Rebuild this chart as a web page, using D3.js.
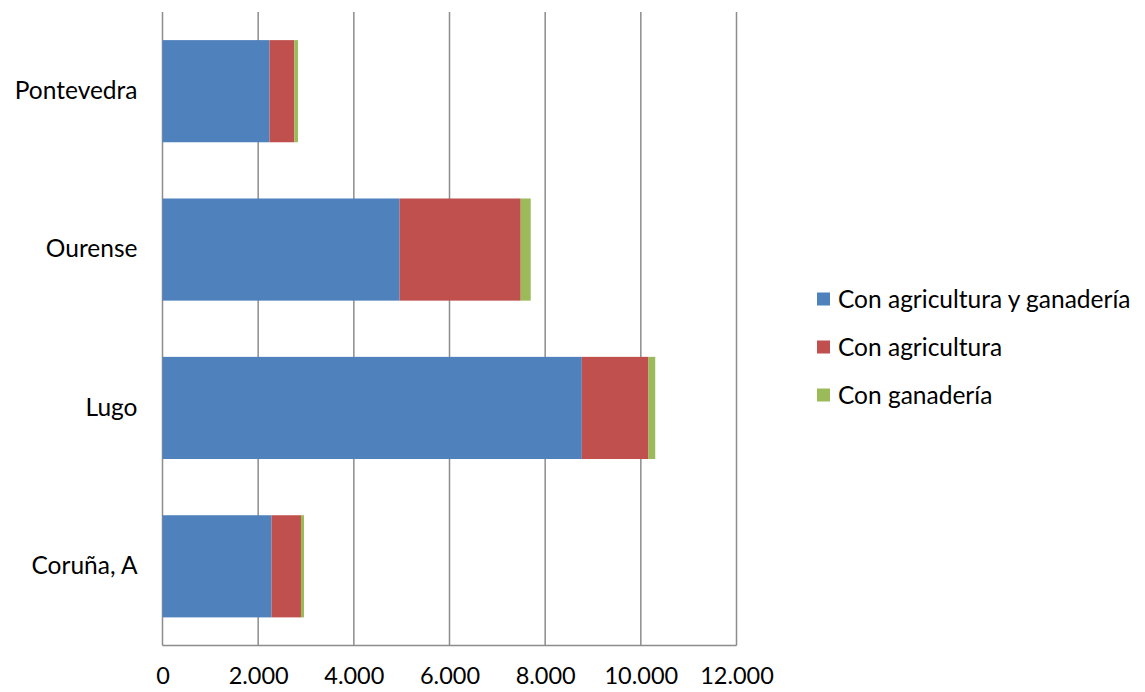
<!DOCTYPE html>
<html><head><meta charset="utf-8">
<script src="https://cdn.jsdelivr.net/npm/d3@7"></script>
<style>body{margin:0;background:#fff}svg{display:block}text{font-family:Lato,"Open Sans",sans-serif;fill:#000}</style>
</head><body><svg id="c" width="1145" height="692"></svg>
<script>
const categories = ["Pontevedra","Ourense","Lugo","Coruña, A"];
const seriesNames = ["Con agricultura y ganadería","Con agricultura","Con ganadería"];
const agriGanaderia = [2238, 4958, 8766, 2280];
const agricultura = [517, 2531, 1395, 615];
const ganaderia = [77, 209, 140, 63];
const xTicks = [0,2000,4000,6000,8000,10000,12000];
const xTickLabels = ["0","2.000","4.000","6.000","8.000","10.000","12.000"];
const colors = ["#4F81BD","#C0504D","#9BBB59"];
const FONT = 'Lato,"Open Sans",sans-serif';
const FS = 24.5, FSX = 23.5;

const svg = d3.select("#c");
const x = d3.scaleLinear().domain([0,12000]).range([162.5,736.5]);
const y = d3.scaleBand().domain(categories).range([12,645.5]).paddingInner(0.355).paddingOuter(0.1775);

const rows = categories.map((c,i)=>({cat:c, s0:agriGanaderia[i], s1:agricultura[i], s2:ganaderia[i]}));
const stack = d3.stack().keys(["s0","s1","s2"])(rows);

svg.append("g").selectAll("line").data(xTicks).join("line")
  .attr("x1",d=>x(d)).attr("x2",d=>x(d)).attr("y1",12).attr("y2",645.5)
  .attr("stroke","#8c8c8c").attr("stroke-width",1.5);
svg.append("line").attr("x1",x(0)).attr("x2",x(12000)).attr("y1",645.5).attr("y2",645.5)
  .attr("stroke","#8c8c8c").attr("stroke-width",1.5);

svg.append("g").selectAll("g").data(stack).join("g").attr("fill",(d,i)=>colors[i])
  .selectAll("rect").data(d=>d).join("rect")
  .attr("x",d=>x(d[0])).attr("width",d=>x(d[1])-x(d[0]))
  .attr("y",d=>y(d.data.cat)).attr("height",y.bandwidth());

const xa = svg.append("g").attr("transform","translate(0,645.5)")
  .call(d3.axisBottom(x).tickValues(xTicks).tickFormat((d,i)=>xTickLabels[i]).tickSize(0).tickPadding(22));
xa.select(".domain").remove();
xa.selectAll("text").attr("font-size",FSX).attr("font-family",FONT).attr("fill","#000");

const ya = svg.append("g").attr("transform","translate(162.5,0)")
  .call(d3.axisLeft(y).tickSize(0).tickPadding(25));
ya.select(".domain").remove();
ya.selectAll("text").attr("font-size",FS).attr("font-family",FONT).attr("fill","#000");

const lg = svg.append("g").selectAll("g").data(seriesNames).join("g")
  .attr("transform",(d,i)=>`translate(817,${299+i*48})`);
lg.append("rect").attr("x",0).attr("y",-6.5).attr("width",13).attr("height",13).attr("fill",(d,i)=>colors[i]);
lg.append("text").attr("x",21).attr("y",0).attr("dy","0.35em").attr("font-size",FS).attr("font-family",FONT).text(d=>d);
</script></body></html>
